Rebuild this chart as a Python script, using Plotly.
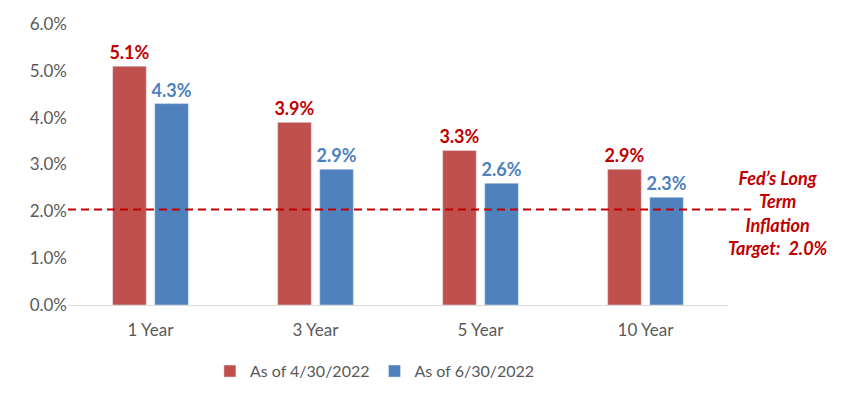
import plotly.graph_objects as go

categories = ["1 Year", "3 Year", "5 Year", "10 Year"]
apr_2022 = [5.1, 3.9, 3.3, 2.9]
jun_2022 = [4.3, 2.9, 2.6, 2.3]
fed_target = 2.04
y_ticks = [0, 1, 2, 3, 4, 5, 6]

FONT = "Lato, 'Open Sans', sans-serif"

fig = go.Figure()
fig.add_trace(go.Bar(
    x=categories, y=apr_2022, name="As of 4/30/2022",
    marker_color="#C0504D",
    text=[f"{v:.1f}%" for v in apr_2022], textposition="outside",
    constraintext="none",
    textfont=dict(color="#C00000", size=18, family=FONT, weight="bold"),
    cliponaxis=False,
))
fig.add_trace(go.Bar(
    x=categories, y=jun_2022, name="As of 6/30/2022",
    marker_color="#4F81BD",
    text=[f"{v:.1f}%" for v in jun_2022], textposition="outside",
    constraintext="none",
    textfont=dict(color="#4F81BD", size=18, family=FONT, weight="bold"),
    cliponaxis=False,
))

# Fed target reference line, runs past the plot area to the note
fig.add_shape(type="line", xref="paper", yref="y", x0=0, x1=1.035,
              y0=fed_target, y1=fed_target,
              line=dict(color="#C00000", width=2, dash="8px,5px"))
fig.add_annotation(xref="paper", yref="y", x=1.075, y=fed_target, yshift=-4,
                   xanchor="center", yanchor="middle",
                   text="<b><i>Fed’s Long<br>Term<br>Inflation<br>Target:  2.0%</i></b>",
                   showarrow=False, align="center",
                   font=dict(color="#C00000", size=18, family=FONT))

fig.update_layout(
    width=845, height=403,
    margin=dict(l=60, r=125, t=16, b=106),
    paper_bgcolor="white", plot_bgcolor="white",
    barmode="group", bargap=0.49, bargroupgap=0.2,
    font=dict(family=FONT, color="#595959", size=16),
    showlegend=True,
    legend=dict(orientation="h", x=0.465, xanchor="center", y=-0.175, yanchor="top",
                font=dict(size=16, color="#595959"), traceorder="normal"),
    xaxis=dict(showline=True, linecolor="#D9D9D9", linewidth=1, ticks="",
               automargin=False, ticklabelstandoff=10,
               tickfont=dict(size=17, color="#595959")),
    yaxis=dict(range=[0, 6], tickvals=y_ticks,
               ticktext=[f"{v:.1f}%" for v in y_ticks],
               showgrid=False, zeroline=False, ticks="", ticklen=0,
               automargin=False,
               tickfont=dict(size=17, color="#595959")),
)

fig.write_html("out.html")
